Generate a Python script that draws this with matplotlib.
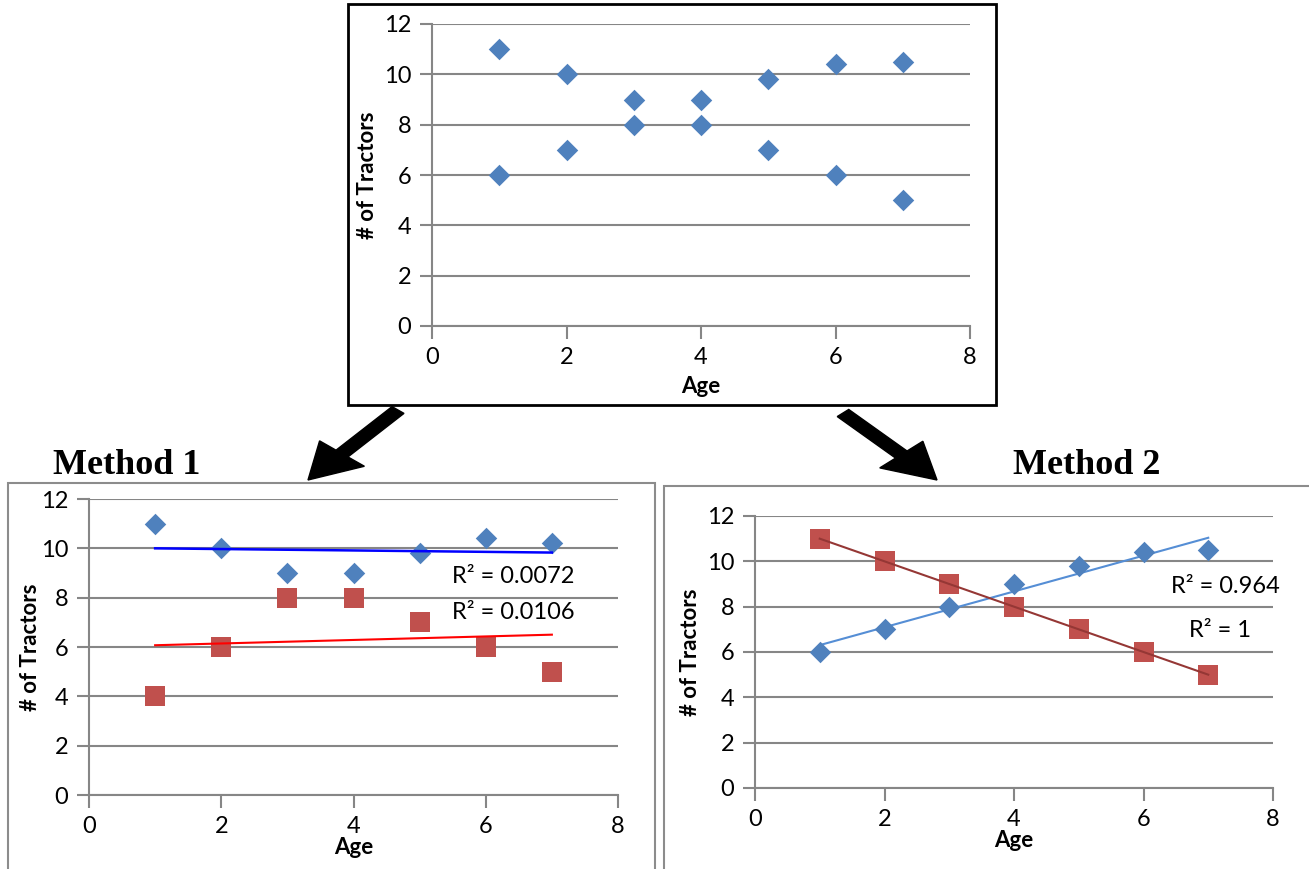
import numpy as np
import matplotlib
matplotlib.use("Agg")
import matplotlib.pyplot as plt
from matplotlib.patches import Rectangle, FancyArrow

# ---- data ----
top_x = [1, 1, 2, 2, 3, 3, 4, 4, 5, 5, 6, 6, 7, 7]
top_y = [11, 6, 10, 7, 9, 8, 9, 8, 9.8, 7, 10.4, 6, 10.5, 5]

m1_x = [1, 2, 3, 4, 5, 6, 7]
m1_blue = [11, 10, 9, 9, 9.8, 10.4, 10.2]
m1_red = [4, 6, 8, 8, 7, 6, 5]

m2_x = [1, 2, 3, 4, 5, 6, 7]
m2_blue = [6, 7, 8, 9, 9.8, 10.4, 10.5]
m2_red = [11, 10, 9, 8, 7, 6, 5]

x_ticks = [0, 2, 4, 6, 8]
y_ticks = [0, 2, 4, 6, 8, 10, 12]

BLUE = "#4F81BD"
RED = "#C0504D"
GRID = "#868686"
FONT = "Lato"

W, H = 1309, 869
fig = plt.figure(figsize=(W / 100, H / 100), dpi=100)


def fx(px):
    return px / W


def fy(py):
    return 1 - py / H


def make_ax(x0, x1, y0, y1, xlab_pad=3, ylab_pad=2):
    ax = fig.add_axes([fx(x0), fy(y0), fx(x1) - fx(x0), fy(y1) - fy(y0)])
    ax.set_xlim(0, 8)
    ax.set_ylim(0, 12)
    ax.set_xticks(x_ticks)
    ax.set_yticks(y_ticks)
    ax.yaxis.grid(True, color=GRID, lw=1.5)
    ax.set_axisbelow(True)
    for s in ["top", "right"]:
        ax.spines[s].set_visible(False)
    for s in ["left", "bottom"]:
        ax.spines[s].set_color(GRID)
        ax.spines[s].set_linewidth(1.5)
    ax.tick_params(axis="both", color=GRID, width=1.5, length=9,
                   labelsize=17, pad=6, direction="out")
    for lab in ax.get_xticklabels() + ax.get_yticklabels():
        lab.set_fontfamily(FONT)
    ax.set_xlabel("Age", fontsize=16, fontweight="bold", family=FONT, labelpad=xlab_pad)
    ax.set_ylabel("# of Tractors", fontsize=16, fontweight="bold", family=FONT, labelpad=ylab_pad)
    return ax


def fit(x, y):
    p = np.polyfit(x, y, 1)
    pred = np.polyval(p, x)
    ss_res = np.sum((np.array(y) - pred) ** 2)
    ss_tot = np.sum((np.array(y) - np.mean(y)) ** 2)
    return p, 1 - ss_res / ss_tot


# ---- frames ----
fig.patches.append(Rectangle((fx(348), fy(405)), fx(996) - fx(348), fy(4) - fy(405),
                             transform=fig.transFigure, fill=False, ec="black", lw=2))
fig.patches.append(Rectangle((fx(8), fy(880)), fx(655) - fx(8), fy(483) - fy(880),
                             transform=fig.transFigure, fill=False, ec="#8c8c8c", lw=1.5))
fig.patches.append(Rectangle((fx(664), fy(880)), fx(1320) - fx(664), fy(486) - fy(880),
                             transform=fig.transFigure, fill=False, ec="#8c8c8c", lw=1.5))

# ---- top chart ----
ax0 = make_ax(432, 970, 326, 24, xlab_pad=6, ylab_pad=4)
ax0.scatter(top_x, top_y, marker="D", s=120, color=BLUE, zorder=3, linewidths=0)

# ---- method 1 ----
ax1 = make_ax(89, 618, 795, 499, xlab_pad=0, ylab_pad=0)
ax1.scatter(m1_x, m1_blue, marker="D", s=120, color=BLUE, zorder=3, linewidths=0)
ax1.scatter(m1_x, m1_red, marker="s", s=210, color=RED, zorder=3, linewidths=0)
pb, rb = fit(m1_x, m1_blue)
pr, rr = fit(m1_x, m1_red)
xs = np.array([1, 7])
ax1.plot(xs, np.polyval(pb, xs), color="#0000FF", lw=1.8, zorder=4)
ax1.plot(xs, np.polyval(pr, xs), color="#FF0000", lw=1.5, zorder=4)
ax1.text(6.41, 8.84, f"R² = {rb:.4f}", fontsize=17, family=FONT, ha="center", va="center")
ax1.text(6.41, 7.38, f"R² = {rr:.4f}", fontsize=17, family=FONT, ha="center", va="center")

# ---- method 2 ----
ax2 = make_ax(755, 1273, 788, 516, xlab_pad=0, ylab_pad=4)
pb2, rb2 = fit(m2_x, m2_blue)
pr2, rr2 = fit(m2_x, m2_red)
ax2.plot(xs, np.polyval(pb2, xs), color="#558ED5", lw=1.5, zorder=2.5)
ax2.plot(xs, np.polyval(pr2, xs), color="#953735", lw=1.5, zorder=4)
ax2.scatter(m2_x, m2_blue, marker="D", s=120, color=BLUE, zorder=3, linewidths=0)
ax2.scatter(m2_x, m2_red, marker="s", s=210, color=RED, zorder=3, linewidths=0)
ax2.text(7.27, 8.91, f"R² = {rb2:.3f}", fontsize=17, family=FONT, ha="center", va="center")
ax2.text(7.18, 6.97, f"R² = {rr2:.0f}", fontsize=17, family=FONT, ha="center", va="center")

# ---- method labels ----
fig.text(fx(127), fy(466), "Method 1", fontsize=26, fontweight="bold",
         family="Liberation Serif", ha="center", va="center")
fig.text(fx(1087), fy(466), "Method 2", fontsize=26, fontweight="bold",
         family="Liberation Serif", ha="center", va="center")

# ---- arrows (figure pixel coords) ----
for (xa, ya, xb, yb) in [(398, 410, 308, 480), (843, 413, 937, 480)]:
    fig.patches.append(FancyArrow(fx(xa), fy(ya), fx(xb) - fx(xa), fy(yb) - fy(ya),
                                  width=0.012, head_width=0.045, head_length=0.04,
                                  length_includes_head=True, color="black",
                                  transform=fig.transFigure))

fig.savefig("out.png", dpi=100)
